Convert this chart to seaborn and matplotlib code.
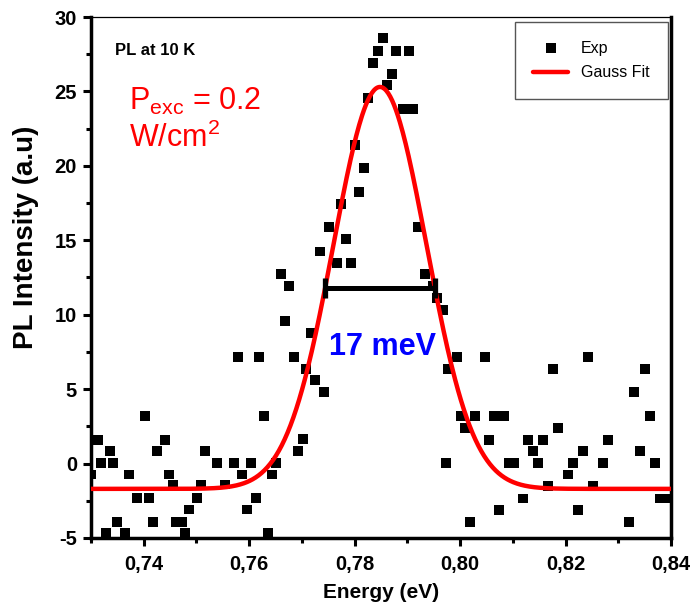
import numpy as np
import matplotlib
matplotlib.use("Agg")
import matplotlib.pyplot as plt
import seaborn as sns
from matplotlib.ticker import FixedLocator

# ---------------- data ----------------
energy = [
    0.73006, 0.73133, 0.73195, 0.73355, 0.73417, 0.73290, 0.73499, 0.73650, 0.73715, 0.73878,
    0.74018, 0.74094, 0.74176, 0.74257, 0.74409, 0.74474, 0.74555, 0.74618, 0.74726, 0.74777,
    0.74859, 0.75016, 0.75092, 0.75168, 0.75395, 0.75536, 0.75712, 0.75869, 0.75964, 0.76040,
    0.76123, 0.76275, 0.76357, 0.76438, 0.76514, 0.75793, 0.76192, 0.76850, 0.77077, 0.77248,
    0.77419, 0.77015, 0.76931, 0.76679, 0.77172, 0.76598, 0.76761, 0.77343, 0.77671, 0.77925,
    0.77836, 0.77519, 0.77741, 0.78088, 0.78178, 0.78007, 0.78259, 0.78354, 0.78437, 0.78532,
    0.78779, 0.79037, 0.78703, 0.78608, 0.78911, 0.79012, 0.79113, 0.79207, 0.79335, 0.79492,
    0.79568, 0.79681, 0.79776, 0.79936, 0.80472, 0.79733, 0.80011, 0.80283, 0.80093, 0.80188,
    0.80554, 0.80649, 0.80738, 0.80833, 0.80933, 0.81022, 0.81199, 0.81293, 0.81388, 0.81483,
    0.81578, 0.81661, 0.81768, 0.81862, 0.82052, 0.82135, 0.82242, 0.82337, 0.82431, 0.82526,
    0.82716, 0.82811, 0.83203, 0.83298, 0.83412, 0.83507, 0.83601, 0.83696, 0.83791, 0.83981,
]
intensity = [
    -0.74, 1.61, 0.05, 0.83, 0.05, -4.65, -3.94, -4.65, -0.74, -2.30,
    3.22, -2.30, -3.94, 0.83, 1.61, -0.74, -1.41, -3.94, -3.94, -4.65,
    -3.09, -2.30, -1.41, 0.83, 0.05, -1.41, 0.05, -0.74, -3.09, 0.05,
    -2.30, 3.22, -4.65, -0.74, 0.05, 7.16, 7.16, 7.16, 6.38, 5.59,
    4.79, 1.66, 0.87, 9.55, 8.77, 12.75, 11.95, 14.25, 13.47, 13.47,
    15.10, 15.89, 17.45, 18.23, 19.85, 21.41, 24.54, 26.93, 27.74, 28.57,
    27.74, 27.74, 26.17, 25.42, 23.81, 23.81, 23.81, 15.89, 12.75, 11.95,
    11.12, 10.34, 6.38, 7.16, 7.16, 0.05, 3.17, 3.17, 2.40, -3.91,
    1.61, 3.17, -3.13, 3.17, 0.05, 0.05, -2.35, 1.61, 0.83, 0.05,
    1.61, -1.52, 6.38, 2.40, -0.74, 0.05, -3.13, 0.83, 7.16, -1.52,
    0.05, 1.61, -3.91, 4.79, 0.83, 6.38, 3.17, 0.05, -2.35, -2.35,
]

# Gauss fit parameters (offset, amplitude, centre, FWHM in eV)
fit_y0 = -1.7
fit_amp = 27.0
fit_xc = 0.7848
fit_fwhm = 0.0208

x_ticks = [0.74, 0.76, 0.78, 0.80, 0.82, 0.84]
x_tick_labels = ["0,74", "0,76", "0,78", "0,80", "0,82", "0,84"]
x_minor = [0.73, 0.75, 0.77, 0.79, 0.81, 0.83]
y_ticks = [-5, 0, 5, 10, 15, 20, 25, 30]
y_tick_labels = ["-5", "0", "5", "10", "15", "20", "25", "30"]
y_minor = [-2.5, 2.5, 7.5, 12.5, 17.5, 22.5, 27.5]

# ---------------- style ----------------
sns.set_style("white")
plt.rcParams["font.family"] = ["Liberation Sans", "DejaVu Sans"]
plt.rcParams["text.color"] = "black"
plt.rcParams["axes.labelcolor"] = "black"
plt.rcParams["xtick.color"] = "black"
plt.rcParams["ytick.color"] = "black"
plt.rcParams["mathtext.fontset"] = "custom"
plt.rcParams["mathtext.rm"] = "Liberation Sans"
plt.rcParams["mathtext.it"] = "Liberation Sans:italic"
plt.rcParams["mathtext.bf"] = "Liberation Sans:bold"

fig = plt.figure(figsize=(6.92, 6.14), dpi=100)
ax = fig.add_axes([0.1315, 0.1238, 0.8382, 0.8485])

# experimental points
sns.scatterplot(x=energy, y=intensity, marker="s", s=50, color="black",
                linewidth=0, edgecolor="none", label="Exp", ax=ax, zorder=3)

# Gaussian fit curve
fit_x = np.linspace(0.73, 0.84, 600)
fit_y = fit_y0 + fit_amp * np.exp(-4 * np.log(2) * ((fit_x - fit_xc) / fit_fwhm) ** 2)
sns.lineplot(x=fit_x, y=fit_y, color="#ff0000", linewidth=3.2, label="Gauss Fit",
             ax=ax, zorder=4)

# FWHM bar
ax.errorbar([fit_xc], [fit_y0 + fit_amp / 2], xerr=[fit_fwhm / 2], fmt="none",
            ecolor="black", elinewidth=3.6, capsize=7, capthick=3.8, zorder=5)

ax.set_xlim(0.73, 0.84)
ax.set_ylim(-5, 30)

ax.xaxis.set_major_locator(FixedLocator(x_ticks))
ax.xaxis.set_minor_locator(FixedLocator(x_minor))
ax.yaxis.set_major_locator(FixedLocator(y_ticks))
ax.yaxis.set_minor_locator(FixedLocator(y_minor))
ax.set_xticklabels(x_tick_labels, fontsize=14.5, fontweight="bold", color="black")
ax.set_yticklabels(y_tick_labels, fontsize=14.5, fontweight="bold", color="black")

ax.tick_params(which="major", direction="out", length=6, width=2.2,
               bottom=True, left=True, top=False, right=False, pad=6, colors="black")
ax.tick_params(which="minor", direction="out", length=3.5, width=2.2,
               bottom=True, left=True, top=False, right=False, colors="black")
ax.tick_params(axis="y", which="major", pad=4)

for side in ["left", "bottom", "right"]:
    ax.spines[side].set_linewidth(2.5)
    ax.spines[side].set_color("black")
ax.spines["top"].set_linewidth(0.9)
ax.spines["top"].set_color("black")

ax.set_xlabel("Energy (eV)", fontsize=15, fontweight="bold", labelpad=7, color="black")
ax.set_ylabel("PL Intensity (a.u)", fontsize=20, fontweight="bold", color="black")
ax.yaxis.set_label_coords(-0.09, 0.578)

# annotations
ax.text(0.0414, 0.927, "PL at 10 K", transform=ax.transAxes, fontsize=12,
        fontweight="bold", ha="left", va="baseline", color="black")
ax.text(0.066, 0.8215, r"P$_{\mathrm{exc}}$ = 0.2", transform=ax.transAxes,
        fontsize=22, ha="left", va="baseline", color="#ff0000")
ax.text(0.066, 0.751, r"W/cm$^{\mathrm{2}}$", transform=ax.transAxes,
        fontsize=22, ha="left", va="baseline", color="#ff0000")
ax.text(fit_xc + 0.0005, 7.3, "17 meV", fontsize=22, fontweight="bold",
        color="#0000ff", ha="center", va="baseline", zorder=6)

leg = ax.legend(loc="upper right", bbox_to_anchor=(0.995, 0.99), fontsize=11.5,
                frameon=True, fancybox=False, edgecolor="#555555", framealpha=1,
                handlelength=2.2, borderpad=1.15, labelspacing=0.6,
                handletextpad=0.8, borderaxespad=0)
leg.get_frame().set_linewidth(1.0)
for t in leg.get_texts():
    t.set_color("black")

fig.savefig("out.png", dpi=100)
